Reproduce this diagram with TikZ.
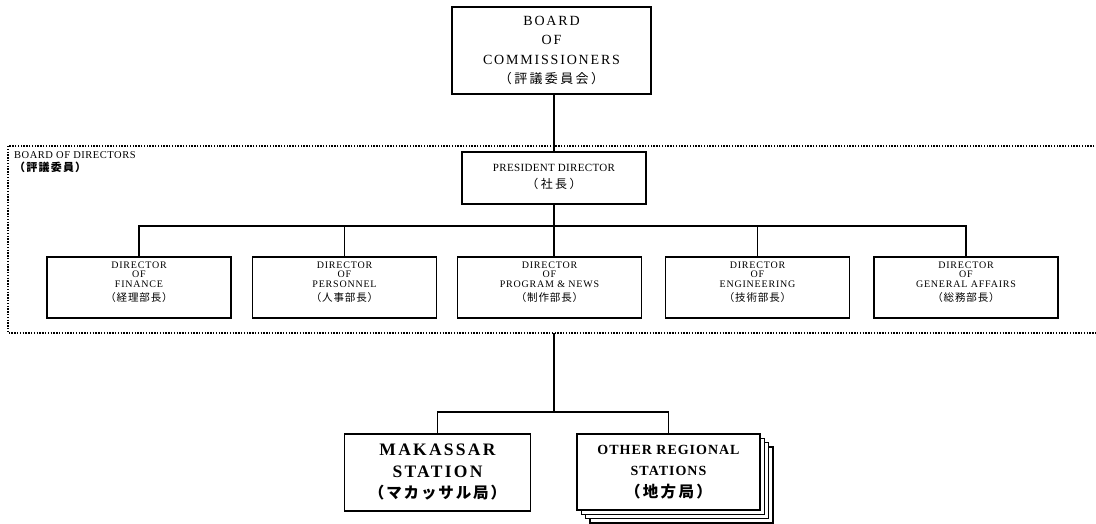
\documentclass[tikz,border=0pt]{standalone}
\usepackage{fontspec}
\setmainfont{Liberation Serif}
\newfontfamily\jp{Noto Sans CJK JP}
\begin{document}
\begin{tikzpicture}[x=1bp,y=-1bp,
  box/.style={draw, line width=1.4bp, fill=white, inner sep=0pt, align=center},
  conn/.style={line width=1.3bp},
  frame/.style={line width=1.5bp, dash pattern=on 1.4bp off 1.4bp},
  dirbox/.style={box, minimum width=184bp, minimum height=61bp,
    font=\fontsize{10bp}{9.4bp}\selectfont\addfontfeature{LetterSpace=8}},
  stationbox/.style={box, minimum width=186bp, minimum height=77bp,
    font=\fontsize{17.5bp}{21.5bp}\selectfont\bfseries\addfontfeature{LetterSpace=13}},
  backbox/.style={box, minimum width=183bp, minimum height=76bp}]
\useasboundingbox (0,0) rectangle (1096,524);

% board of directors frame (open to the right)
\draw[frame] (1100,146) -- (8,146) -- (8,333) -- (1100,333);
\node[anchor=north west, inner sep=0pt, align=left,
  font=\fontsize{10.5bp}{13.5bp}\selectfont\addfontfeature{LetterSpace=5}] (bod) at (14,151)
  {BOARD OF DIRECTORS\\{\jp\bfseries\fontsize{11bp}{13.5bp}\selectfont\addfontfeature{LetterSpace=11} （評議委員）}};

% top level
\node[box, minimum width=199bp, minimum height=87bp,
  font=\fontsize{14bp}{19.3bp}\selectfont\addfontfeature{LetterSpace=13}] (boc) at (551.5,50.5)
  {BOARD\\OF\\COMMISSIONERS\\{\jp\fontsize{13bp}{19.3bp}\selectfont\addfontfeature{LetterSpace=18} （評議委員会）}};

\node[box, minimum width=184bp, minimum height=52bp,
  font=\fontsize{11bp}{17bp}\selectfont\addfontfeature{LetterSpace=3}] (pres) at (554,178)
  {PRESIDENT DIRECTOR\\{\jp\fontsize{12bp}{17bp}\selectfont\addfontfeature{LetterSpace=20} （社長）}\rule[-4bp]{0pt}{0pt}};

% directors
\newcommand{\jpsmall}[1]{\\[4.5bp]{\jp\fontsize{10.5bp}{10bp}\selectfont\addfontfeature{LetterSpace=8} #1}\rule[-12bp]{0pt}{0pt}}
\node[dirbox] (fin)  at (139,287.5)   {DIRECTOR\\OF\\FINANCE\jpsmall{（経理部長）}};
\node[dirbox] (per)  at (344.5,287.5) {DIRECTOR\\OF\\PERSONNEL\jpsmall{（人事部長）}};
\node[dirbox] (prog) at (549.5,287.5) {DIRECTOR\\OF\\PROGRAM \& NEWS\jpsmall{（制作部長）}};
\node[dirbox] (eng)  at (757.5,287.5) {DIRECTOR\\OF\\ENGINEERING\jpsmall{（技術部長）}};
\node[dirbox] (gen)  at (966,287.5)   {DIRECTOR\\OF\\GENERAL AFFAIRS\jpsmall{（総務部長）}};

% stations
\node[stationbox] (mak) at (437.5,472.5)
  {MAKASSAR\\STATION\\{\jp\bfseries\fontsize{15.5bp}{21.5bp}\selectfont\addfontfeature{LetterSpace=12} （マカッサル局）}};
\node[backbox] (oth3) at (681.4,484.9) {};
\node[backbox] (oth2) at (677.1,480.6) {};
\node[backbox] (oth1) at (672.8,476.3) {};
\node[box, minimum width=183bp, minimum height=76bp,
  font=\fontsize{14bp}{21.5bp}\selectfont\bfseries\addfontfeature{LetterSpace=7}] (oth) at (668.5,472)
  {OTHER REGIONAL\\STATIONS\\{\jp\bfseries\fontsize{15.5bp}{21.5bp}\selectfont\addfontfeature{LetterSpace=15} （地方局）}};

% connectors
\coordinate (bus) at (554,226);
\coordinate (fbot) at (554,333);
\coordinate (split) at (554,412);
\draw[conn] (pres.north) -- (pres.north |- boc.south);
\draw[conn] (pres.south) -- (pres.south |- prog.north);
\draw[conn] (fin.north) |- (bus) -| (gen.north);
\draw[conn] (per.north) -- (per.north |- bus);
\draw[conn] (eng.north) -- (eng.north |- bus);
\draw[conn] (fbot) -- (split);
\draw[conn] (mak.north) |- (split) -| (oth.north);
\end{tikzpicture}
\end{document}
